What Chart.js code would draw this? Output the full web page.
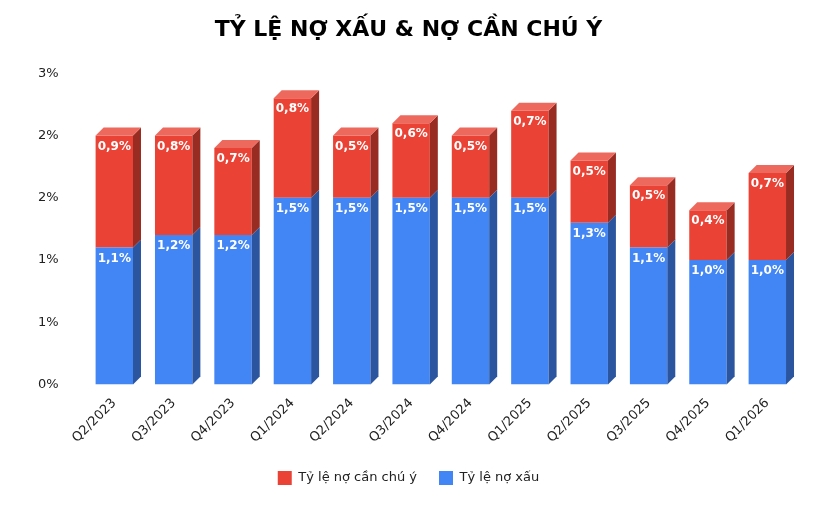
<!DOCTYPE html>
<html><head><meta charset="utf-8">
<script src="https://cdn.jsdelivr.net/npm/chart.js@4"></script>
<style>body{margin:0;background:#fff}#w{width:827px;height:510px}</style>
</head><body><div id="w"><canvas id="c"></canvas></div>
<script>
const categories=["Q2/2023","Q3/2023","Q4/2023","Q1/2024","Q2/2024","Q3/2024","Q4/2024","Q1/2025","Q2/2025","Q3/2025","Q4/2025","Q1/2026"];
const noXau=[1.1,1.2,1.2,1.5,1.5,1.5,1.5,1.5,1.3,1.1,1.0,1.0];
const canChuY=[0.9,0.8,0.7,0.8,0.5,0.6,0.5,0.7,0.5,0.5,0.4,0.7];
const yTicks=["0%","1%","1%","2%","2%","3%"];
const D=8;
function shade(c,f){const n=parseInt(c.slice(1),16);let r=n>>16,g=(n>>8)&255,b=n&255;
 const m=v=>Math.max(0,Math.min(255,Math.round(f<1?v*f:v+(255-v)*(f-1))));return `rgb(${m(r)},${m(g)},${m(b)})`;}
const faces={id:'faces',afterDatasetsDraw(ch){const ctx=ch.ctx;
 ch.data.datasets.forEach((ds,i)=>{const meta=ch.getDatasetMeta(i);
  meta.data.forEach((b,j)=>{const h=b.width/2,xr=b.x+h,xl=b.x-h,top=b.y,base=b.base;
   ctx.fillStyle=shade(ds.backgroundColor,0.65);
   ctx.beginPath();ctx.moveTo(xr,top);ctx.lineTo(xr+D,top-D);ctx.lineTo(xr+D,base-D);ctx.lineTo(xr,base);ctx.closePath();ctx.fill();
   if(i===ch.data.datasets.length-1){ctx.fillStyle=shade(ds.backgroundColor,1.2);
    ctx.beginPath();ctx.moveTo(xl,top);ctx.lineTo(xl+D,top-D);ctx.lineTo(xr+D,top-D);ctx.lineTo(xr,top);ctx.closePath();ctx.fill();}
   ctx.fillStyle='#fff';ctx.font='bold 12px "DejaVu Sans"';ctx.textAlign='center';ctx.textBaseline='middle';
   ctx.fillText(ds.data[j].toFixed(1).replace('.',',')+'%',b.x,top+11);
  });});}};
new Chart(document.getElementById('c'),{type:'bar',
 data:{labels:categories,datasets:[
  {label:'Tỷ lệ nợ xấu',data:noXau,backgroundColor:'#4285F4'},
  {label:'Tỷ lệ nợ cần chú ý',data:canChuY,backgroundColor:'#EA4335'}]},
 options:{responsive:true,maintainAspectRatio:false,animation:false,
  layout:{padding:{left:20,right:30,top:5,bottom:15}},
  datasets:{bar:{barPercentage:0.63,categoryPercentage:1}},
  plugins:{title:{display:true,text:'TỶ LỆ NỢ XẤU & NỢ CẦN CHÚ Ý',color:'#000',font:{family:'DejaVu Sans',size:22,weight:'bold'},padding:{top:12,bottom:30}},
   legend:{position:'bottom',reverse:true,labels:{boxWidth:14,boxHeight:14,padding:22,color:'#222',font:{family:'DejaVu Sans',size:13}}},
   tooltip:{enabled:false}},
  scales:{x:{stacked:true,grid:{display:false},border:{display:false},
    ticks:{maxRotation:45,minRotation:45,color:'#222',font:{family:'DejaVu Sans',size:13}}},
   y:{stacked:true,min:0,max:2.5,grid:{display:false},border:{display:false},
    ticks:{stepSize:0.5,color:'#222',font:{family:'DejaVu Sans',size:13},padding:18,callback:(v,i)=>yTicks[i]}}}},
 plugins:[faces]});
</script></body></html>
